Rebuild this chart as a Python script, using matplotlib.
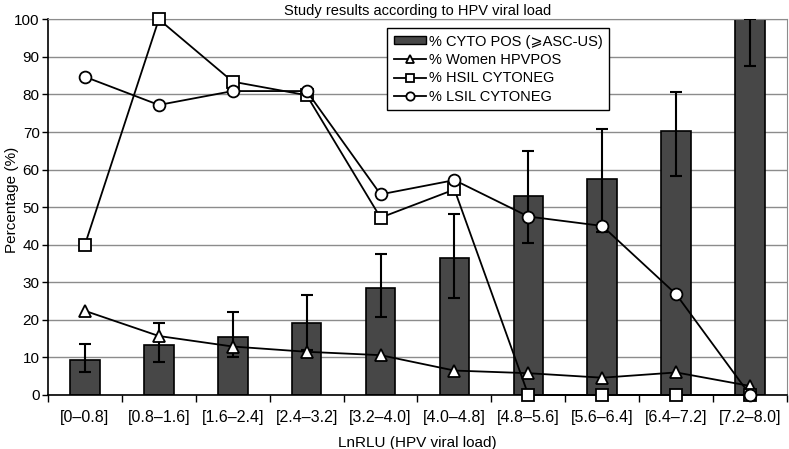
import numpy as np
import matplotlib.pyplot as plt
from matplotlib.lines import Line2D
from matplotlib.patches import Patch

plt.rcParams['font.family'] = ['Liberation Sans', 'DejaVu Sans']

# данные
categories = ['[0\u20130.8]', '[0.8\u20131.6]', '[1.6\u20132.4]', '[2.4\u20133.2]', '[3.2\u20134.0]',
              '[4.0\u20134.8]', '[4.8\u20135.6]', '[5.6\u20136.4]', '[6.4\u20137.2]', '[7.2\u20138.0]']
cyto_pos = [9.3, 13.3, 15.5, 19.2, 28.4, 36.4, 53.0, 57.4, 70.4, 100.0]
cyto_low = [6.0, 8.7, 10.0, 12.0, 20.7, 25.7, 40.5, 43.3, 58.4, 87.6]
cyto_high = [13.6, 19.1, 22.2, 26.7, 37.4, 48.2, 65.0, 70.9, 80.7, 100.0]
women_hpvpos = [22.4, 15.7, 12.9, 11.5, 10.6, 6.5, 5.8, 4.6, 6.0, 2.4]
hsil_cytoneg = [40.0, 100.0, 83.4, 79.8, 47.2, 54.7, 0.0, 0.0, 0.0, 0.0]
lsil_cytoneg = [84.7, 77.2, 80.9, 80.9, 53.4, 57.2, 47.5, 45.0, 26.8, 0.0]

x = np.arange(len(categories))
cyto = np.array(cyto_pos)
yerr = [cyto - np.array(cyto_low), np.array(cyto_high) - cyto]

fig = plt.figure(figsize=(7.89, 4.49), dpi=100)
ax = fig.add_axes([0.0608, 0.1203, 0.9367, 0.8367])

grid_color = '#8c8c8c'
ax.set_axisbelow(True)
ax.yaxis.grid(True, color=grid_color, linewidth=1)

ax.bar(x, cyto, width=0.4, color='#474747', edgecolor='black', linewidth=1.2, zorder=2)
ax.errorbar(x, cyto, yerr=yerr, fmt='none', ecolor='black', elinewidth=1.5,
            capsize=4, capthick=1.5, zorder=3)

line_kw = dict(color='black', linewidth=1.3, markerfacecolor='white',
               markeredgecolor='black', markeredgewidth=1.3)
ax.plot(x, women_hpvpos, marker='^', markersize=9, clip_on=False, zorder=4, **line_kw)
ax.plot(x, hsil_cytoneg, marker='s', markersize=8, clip_on=False, zorder=4, **line_kw)
ax.plot(x, lsil_cytoneg, marker='o', markersize=8.5, clip_on=False, zorder=5, **line_kw)

ax.set_xlim(-0.5, len(categories) - 0.5)
ax.set_ylim(0, 100)
ax.set_yticks(np.arange(0, 101, 10))
ax.set_xticks(np.arange(-0.5, len(categories), 1.0))
ax.set_xticklabels([])
ax.set_xticks(x, minor=True)
ax.set_xticklabels(categories, minor=True)
ax.tick_params(axis='x', which='major', length=5, width=1, direction='out')
ax.tick_params(axis='x', which='minor', length=0, labelsize=11.5, pad=11)
ax.tick_params(axis='y', length=4, width=1, labelsize=11, pad=2)

for side in ['top', 'right']:
    ax.spines[side].set_color(grid_color)
for side in ['left', 'bottom']:
    ax.spines[side].set_color('black')
    ax.spines[side].set_linewidth(1.2)

ax.set_title('Study results according to HPV viral load', fontsize=10.5, pad=3)
ax.set_xlabel('LnRLU (HPV viral load)', fontsize=11, labelpad=8)
ax.set_ylabel('Percentage (%)', fontsize=11)
ax.yaxis.set_label_coords(-0.0395, 0.52)

handles = [
    Patch(facecolor='#474747', edgecolor='black'),
    Line2D([], [], marker='^', markersize=6, **line_kw),
    Line2D([], [], marker='s', markersize=6, **line_kw),
    Line2D([], [], marker='o', markersize=6, **line_kw),
]
labels = ['% CYTO POS (\u2a7eASC-US)', '% Women HPVPOS', '% HSIL CYTONEG', '% LSIL CYTONEG']
leg = ax.legend(handles, labels, loc='upper left', bbox_to_anchor=(0.459, 0.977),
                borderaxespad=0, fontsize=10.5, frameon=True, fancybox=False,
                framealpha=1, edgecolor='black', handlelength=2.2, handleheight=0.5,
                handletextpad=0.2, labelspacing=0.3, borderpad=0.45)
leg.get_frame().set_linewidth(1)

fig.savefig('out.png', dpi=100)
